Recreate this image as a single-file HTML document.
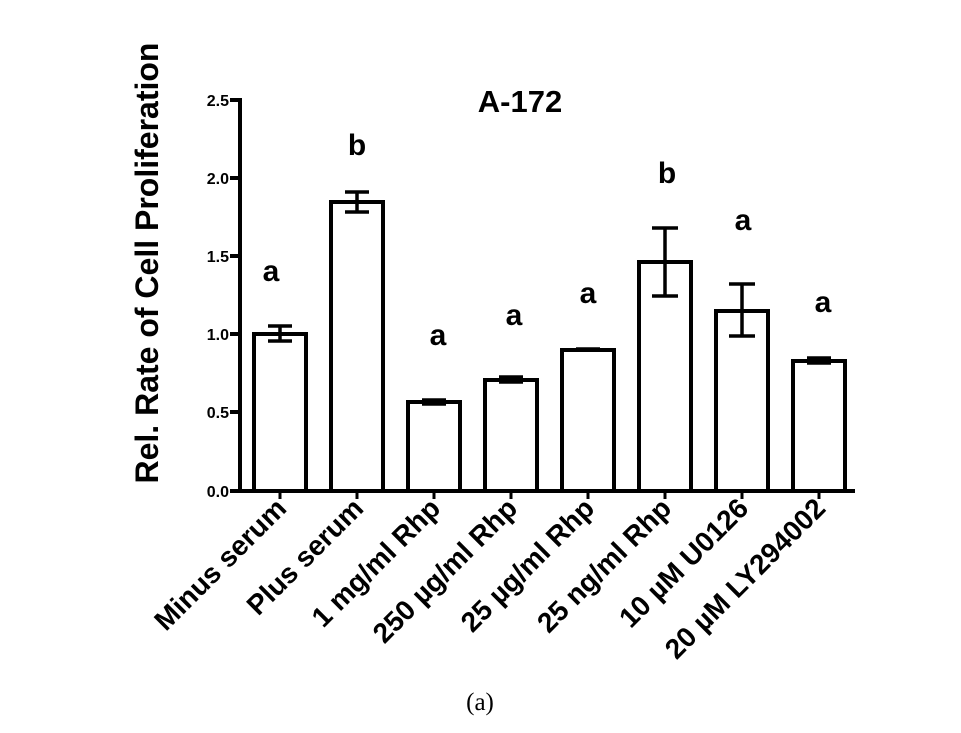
<!DOCTYPE html>
<html><head><meta charset="utf-8"><style>
body{margin:0;background:#fff;}
svg text{font-family:"Liberation Sans",Arial,sans-serif;font-weight:bold;fill:#000;}
</style></head><body>
<svg width="961" height="728" viewBox="0 0 961 728" xmlns="http://www.w3.org/2000/svg">
<rect width="961" height="728" fill="#fff"/>
<g stroke="#000" stroke-width="4" fill="none">
<line x1="240" y1="98" x2="240" y2="493"/>
<line x1="238" y1="491" x2="855" y2="491"/>
<line x1="230" y1="100" x2="240" y2="100"/>
<line x1="230" y1="178" x2="240" y2="178"/>
<line x1="230" y1="256" x2="240" y2="256"/>
<line x1="230" y1="334" x2="240" y2="334"/>
<line x1="230" y1="412" x2="240" y2="412"/>
<line x1="230" y1="491" x2="240" y2="491"/>
<g stroke-width="3">
<line x1="280" y1="491" x2="280" y2="499"/>
<line x1="357" y1="491" x2="357" y2="499"/>
<line x1="434" y1="491" x2="434" y2="499"/>
<line x1="511" y1="491" x2="511" y2="499"/>
<line x1="588" y1="491" x2="588" y2="499"/>
<line x1="665" y1="491" x2="665" y2="499"/>
<line x1="742" y1="491" x2="742" y2="499"/>
<line x1="819" y1="491" x2="819" y2="499"/>
</g>
<rect x="254" y="334" width="52" height="157"/>
<rect x="331" y="202" width="52" height="289"/>
<rect x="408" y="402" width="52" height="89"/>
<rect x="485" y="380" width="52" height="111"/>
<rect x="562" y="350" width="52" height="141"/>
<rect x="639" y="262" width="52" height="229"/>
<rect x="716" y="311" width="52" height="180"/>
<rect x="793" y="361" width="52" height="130"/>
<g stroke-width="3.5">
<path d="M280 326V341M268 326H292M268 341H292"/>
<path d="M357 192V212M345 192H369M345 212H369"/>
<path d="M422 400H446M422 404H446"/>
<path d="M499 377H523M499 382H523"/>
<path d="M576 349H600"/>
<path d="M665 228V296M652 228H678M652 296H678"/>
<path d="M742 284V336M729 284H755M729 336H755"/>
<path d="M807 358H831M807 363H831"/>
</g>
</g>
<g font-size="16" text-anchor="end">
<text x="229" y="106">2.5</text>
<text x="229" y="184">2.0</text>
<text x="229" y="262">1.5</text>
<text x="229" y="340">1.0</text>
<text x="229" y="418">0.5</text>
<text x="229" y="497">0.0</text>
</g>
<text x="520" y="112" font-size="31" text-anchor="middle">A-172</text>
<text transform="translate(158,263) rotate(-90)" font-size="32" text-anchor="middle">Rel. Rate of Cell Proliferation</text>
<g font-size="30" text-anchor="middle">
<text x="271" y="281">a</text>
<text x="357" y="155">b</text>
<text x="438" y="345">a</text>
<text x="514" y="325">a</text>
<text x="588" y="303">a</text>
<text x="667" y="183">b</text>
<text x="743" y="230">a</text>
<text x="823" y="312">a</text>
</g>
<g font-size="28" text-anchor="end">
<text transform="translate(288,510) rotate(-45)">Minus serum</text>
<text transform="translate(365,510) rotate(-45)">Plus serum</text>
<text transform="translate(442,510) rotate(-45)">1 mg/ml Rhp</text>
<text transform="translate(519,510) rotate(-45)">250 µg/ml Rhp</text>
<text transform="translate(596,510) rotate(-45)">25 µg/ml Rhp</text>
<text transform="translate(673,510) rotate(-45)">25 ng/ml Rhp</text>
<text transform="translate(750,510) rotate(-45)">10 µM U0126</text>
<text transform="translate(827,510) rotate(-45)">20 µM LY294002</text>
</g>
<text x="480" y="710" font-size="25" text-anchor="middle" style="font-family:'Liberation Serif',serif;font-weight:normal">(a)</text>
</svg>
</body></html>
